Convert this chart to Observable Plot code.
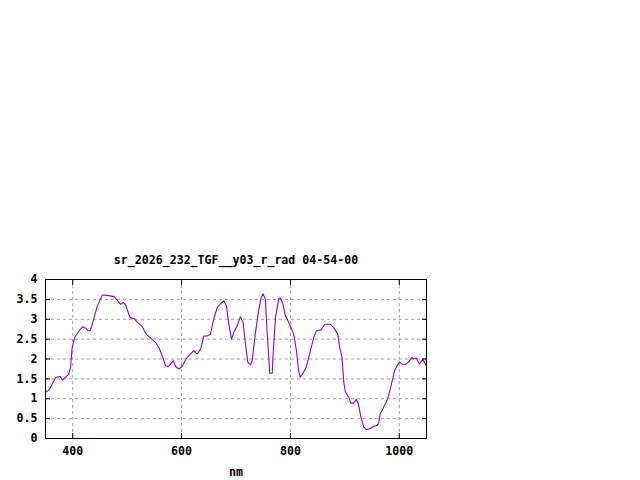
<!DOCTYPE html>
<html>
<head>
<meta charset="utf-8">
<script src="https://cdn.jsdelivr.net/npm/d3@7"></script>
<script src="https://cdn.jsdelivr.net/npm/@observablehq/plot@0.6"></script>
<style>
  html, body { margin: 0; padding: 0; background: #fff; }
</style>
</head>
<body>
<div id="chart"></div>
<script>
const title = "sr_2026_232_TGF__y03_r_rad 04-54-00";
const xLabel = "nm";
const nm = [350.5,356.6,362.7,368.8,376.8,381,387,393,396,399,404,412,418,424,428,432,436,445,454.5,463.6,476,482,488,493,497,503,506,512.5,518.6,528,534,543,552,558.4,564.5,570.6,575.5,581,584.7,589,595,601,607,615,622.6,628.7,635,641,647,653,659,665.4,671.5,677.7,682.6,686.8,691.7,696,702,708,713,717.4,721.7,726.6,729.7,735.8,742,746,749.8,754,757,761,762,766.6,768,772.5,778.6,781.6,786.5,790.8,797,801,806,811,815,818,824.5,829,836.7,842.8,847.7,852,856,861,864,873,879.5,887,890.5,894.8,898,901,907,911,916,921,925,929.6,934.5,939.4,946.8,953,959,962,965,970,977.5,980.4,986.5,991.5,995.8,1000.7,1005,1011,1017,1023,1026,1031,1037,1043,1049.5];
const rad = [1.17,1.22,1.375,1.54,1.56,1.475,1.54,1.625,1.79,2.29,2.56,2.71,2.81,2.775,2.71,2.71,2.875,3.33,3.61,3.6,3.57,3.475,3.375,3.42,3.36,3.125,3.04,3.02,2.93,2.81,2.64,2.525,2.42,2.29,2.08,1.83,1.81,1.89,1.96,1.81,1.75,1.81,1.975,2.11,2.21,2.125,2.25,2.58,2.58,2.625,3.0,3.29,3.39,3.46,3.33,2.875,2.5,2.67,2.83,3.06,2.92,2.375,1.92,1.85,1.96,2.67,3.25,3.54,3.64,3.5,2.71,1.875,1.64,1.64,2.08,3.04,3.52,3.54,3.375,3.08,2.92,2.79,2.625,2.21,1.71,1.54,1.67,1.79,2.21,2.54,2.71,2.725,2.725,2.83,2.875,2.875,2.79,2.625,2.29,2.04,1.42,1.17,1.04,0.89,0.89,0.98,0.86,0.54,0.29,0.225,0.25,0.31,0.33,0.39,0.625,0.75,0.96,1.08,1.42,1.71,1.83,1.92,1.875,1.86,1.92,2.04,2.0,2.025,1.875,2.0,1.83];
const xTicks = [400, 600, 800, 1000];
const yTicks = [0, 0.5, 1, 1.5, 2, 2.5, 3, 3.5, 4];

const data = nm.map((x, i) => ({x, y: rad[i]}));
const blank = () => "";

const chart = Plot.plot({
  width: 640,
  height: 480,
  marginLeft: 45,
  marginRight: 214,
  marginTop: 279,
  marginBottom: 42,
  style: {background: "#fff", fontFamily: "'DejaVu Sans Mono', monospace", fontSize: "11.6px", fontWeight: "bold", color: "#000"},
  x: {domain: [350, 1050]},
  y: {domain: [0, 4]},
  marks: [
    Plot.gridX(xTicks, {stroke: "#a0a0a0", strokeOpacity: 1, strokeDasharray: "3,3"}),
    Plot.gridY(yTicks, {stroke: "#a0a0a0", strokeOpacity: 1, strokeDasharray: "3,3"}),
    Plot.line(data, {x: "x", y: "y", stroke: "#9400d3", strokeWidth: 1.1}),
    Plot.frame({stroke: "#000", strokeWidth: 1}),
    Plot.axisX(xTicks, {anchor: "bottom", tickSize: 0, tickPadding: 8, label: null, tickFormat: d => String(d)}),
    Plot.axisX(xTicks, {anchor: "bottom", tickSize: -5, tickFormat: blank, label: null}),
    Plot.axisX(xTicks, {anchor: "top", tickSize: -5, tickFormat: blank, label: null}),
    Plot.axisY(yTicks, {anchor: "left", tickSize: 0, tickPadding: 8, label: null, tickFormat: d => String(d)}),
    Plot.axisY(yTicks, {anchor: "left", tickSize: -5, tickFormat: blank, label: null}),
    Plot.axisY(yTicks, {anchor: "right", tickSize: -5, tickFormat: blank, label: null}),
    Plot.text([title], {frameAnchor: "top", dy: -24, fontSize: 11.6, fill: "#000"}),
    Plot.text([xLabel], {frameAnchor: "bottom", dy: 37, fontSize: 11.6, fill: "#000"})
  ]
});
document.getElementById("chart").appendChild(chart);
</script>
</body>
</html>
